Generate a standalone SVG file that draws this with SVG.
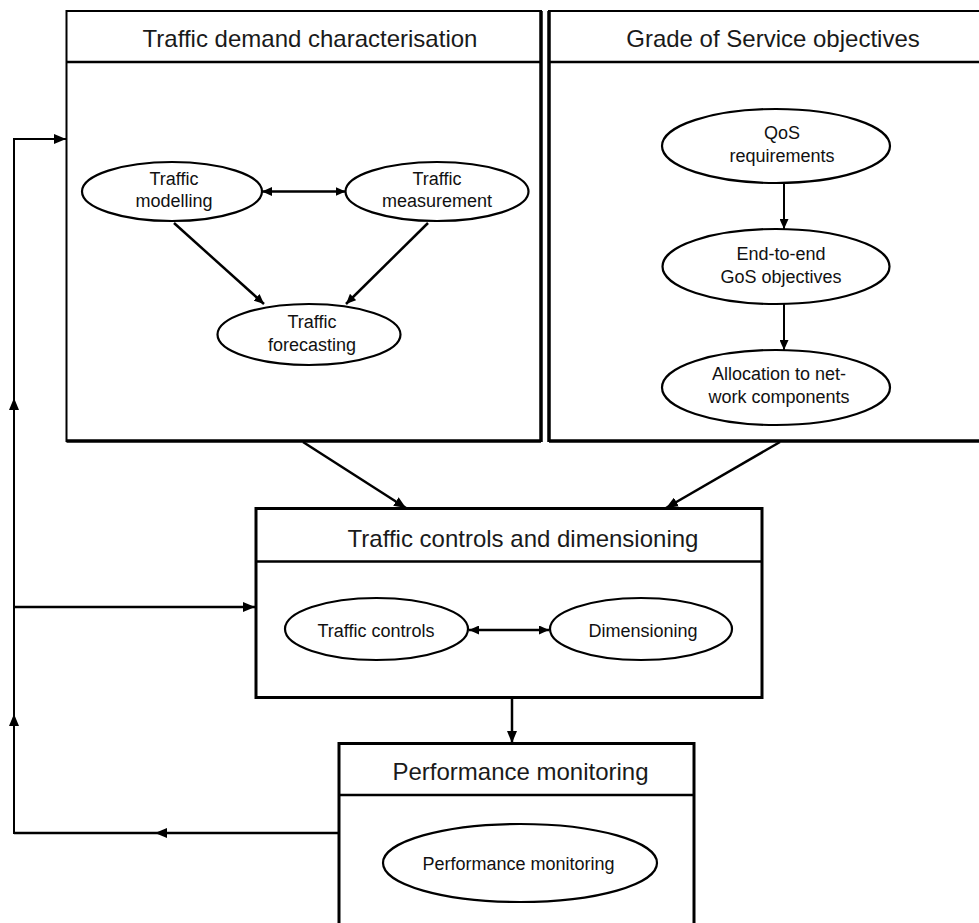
<svg xmlns="http://www.w3.org/2000/svg" width="979" height="923" viewBox="0 0 979 923">
<style>
  .box { fill: none; stroke: #000; stroke-width: 2; }
  .thick { stroke: #000; stroke-width: 3.5; fill: none; }
  .sep { stroke: #000; stroke-width: 2.5; }
  .ell { fill: #fff; stroke: #000; stroke-width: 2.2; }
  .title { font-family: "Liberation Sans", Arial, sans-serif; font-size: 24px; fill: #1a1a1a; text-anchor: middle; }
  .lbl { font-family: "Liberation Sans", Arial, sans-serif; font-size: 18px; fill: #111; text-anchor: middle; }
  .con { fill: none; stroke: #000; stroke-width: 2.5; }
  .conthin { fill: none; stroke: #000; stroke-width: 2; }
  .ah { fill: #000; }
</style>
<defs>
  <marker id="arr" markerUnits="userSpaceOnUse" markerWidth="12" markerHeight="10" refX="12" refY="5" orient="auto">
    <path d="M0,0 L12,5 L0,10 z" fill="#000"/>
  </marker>
  <marker id="arrs" markerUnits="userSpaceOnUse" markerWidth="10" markerHeight="9" refX="10" refY="4.5" orient="auto-start-reverse">
    <path d="M0,0 L10,4.5 L0,9 z" fill="#000"/>
  </marker>
  <path id="ahd" d="M0,0 L-12,-5 L-12,5 z"/>
</defs>
<rect width="979" height="923" fill="#fff"/>

<g id="box-traffic-demand">
  <rect class="box" x="66.5" y="11" width="474.5" height="430"/>
  <line class="thick" x1="66.5" y1="441" x2="541" y2="441"/>
  <line class="thick" x1="541" y1="11" x2="541" y2="442"/>
  <line class="sep" x1="66.5" y1="62" x2="541" y2="62"/>
  <text class="title" x="310" y="47">Traffic demand characterisation</text>
</g>
<g id="node-traffic-modelling">
  <ellipse class="ell" cx="172" cy="191.5" rx="90" ry="29.5"/>
  <text class="lbl" x="174" y="185">Traffic</text>
  <text class="lbl" x="174" y="207">modelling</text>
</g>
<g id="node-traffic-measurement">
  <ellipse class="ell" cx="437" cy="191.5" rx="91.5" ry="29.5"/>
  <text class="lbl" x="437" y="185">Traffic</text>
  <text class="lbl" x="437" y="207">measurement</text>
</g>
<g id="node-traffic-forecasting">
  <ellipse class="ell" cx="309" cy="334.5" rx="91.5" ry="30.5"/>
  <text class="lbl" x="312" y="328">Traffic</text>
  <text class="lbl" x="312" y="351">forecasting</text>
</g>

<g id="box-gos">
  <rect class="box" x="549" y="11" width="434" height="430"/>
  <line class="thick" x1="549" y1="441" x2="983" y2="441"/>
  <line class="thick" x1="549" y1="11" x2="549" y2="442"/>
  <line class="sep" x1="549" y1="62" x2="983" y2="62"/>
  <text class="title" x="773" y="47">Grade of Service objectives</text>
</g>
<g id="node-qos">
  <ellipse class="ell" cx="776" cy="146" rx="114" ry="37"/>
  <text class="lbl" x="782" y="139">QoS</text>
  <text class="lbl" x="782" y="162">requirements</text>
</g>
<g id="node-e2e">
  <ellipse class="ell" cx="776" cy="266.5" rx="113.5" ry="37.5"/>
  <text class="lbl" x="781" y="260">End-to-end</text>
  <text class="lbl" x="781" y="283">GoS objectives</text>
</g>
<g id="node-allocation">
  <ellipse class="ell" cx="776" cy="387.5" rx="114" ry="37.5"/>
  <text class="lbl" x="779" y="380">Allocation to net-</text>
  <text class="lbl" x="779" y="403">work components</text>
</g>

<g id="box-controls">
  <rect class="box" x="256" y="508.5" width="506" height="189" style="stroke-width:3"/>
  <line class="sep" x1="256" y1="561.5" x2="762" y2="561.5"/>
  <text class="title" x="523" y="547">Traffic controls and dimensioning</text>
</g>
<g id="node-traffic-controls">
  <ellipse class="ell" cx="376.5" cy="629" rx="91.5" ry="31"/>
  <text class="lbl" x="376" y="637">Traffic controls</text>
</g>
<g id="node-dimensioning">
  <ellipse class="ell" cx="641" cy="629" rx="91" ry="31"/>
  <text class="lbl" x="643" y="637">Dimensioning</text>
</g>

<g id="box-performance">
  <rect class="box" x="339" y="743.5" width="355" height="200" style="stroke-width:3"/>
  <line class="sep" x1="339" y1="795" x2="694" y2="795"/>
  <text class="title" x="520.5" y="780">Performance monitoring</text>
</g>
<g id="node-performance">
  <ellipse class="ell" cx="520" cy="863" rx="137" ry="39"/>
  <text class="lbl" x="518.5" y="870">Performance monitoring</text>
</g>

<g id="connectors">
  <line class="con" x1="262" y1="191.5" x2="345.5" y2="191.5" marker-start="url(#arrs)" marker-end="url(#arrs)"/>
  <line class="con" x1="174" y1="223" x2="264" y2="304" marker-end="url(#arrs)"/>
  <line class="con" x1="428" y1="223" x2="346" y2="304" marker-end="url(#arrs)"/>
  <line class="conthin" x1="784" y1="183" x2="784" y2="229" marker-end="url(#arrs)"/>
  <line class="conthin" x1="784" y1="304" x2="784" y2="350" marker-end="url(#arrs)"/>
  <line class="con" x1="303" y1="442" x2="406" y2="508" marker-end="url(#arr)"/>
  <line class="con" x1="780" y1="442" x2="666" y2="508" marker-end="url(#arr)"/>
  <line class="con" x1="469" y1="630" x2="549" y2="630" marker-start="url(#arrs)" marker-end="url(#arrs)"/>
  <line class="con" x1="512" y1="698" x2="512" y2="743" marker-end="url(#arr)"/>
  <path class="con" d="M339,833 L14,833"/>
  <path class="conthin" d="M14,834 L14,139 L66,139" marker-end="url(#arr)"/>
  <line class="con" x1="14" y1="607" x2="255" y2="607" marker-end="url(#arr)"/>
  <use href="#ahd" class="ah" transform="translate(155,833) rotate(180)"/>
  <use href="#ahd" class="ah" transform="translate(14,714) rotate(-90)"/>
  <use href="#ahd" class="ah" transform="translate(14,398) rotate(-90)"/>
</g>
</svg>
